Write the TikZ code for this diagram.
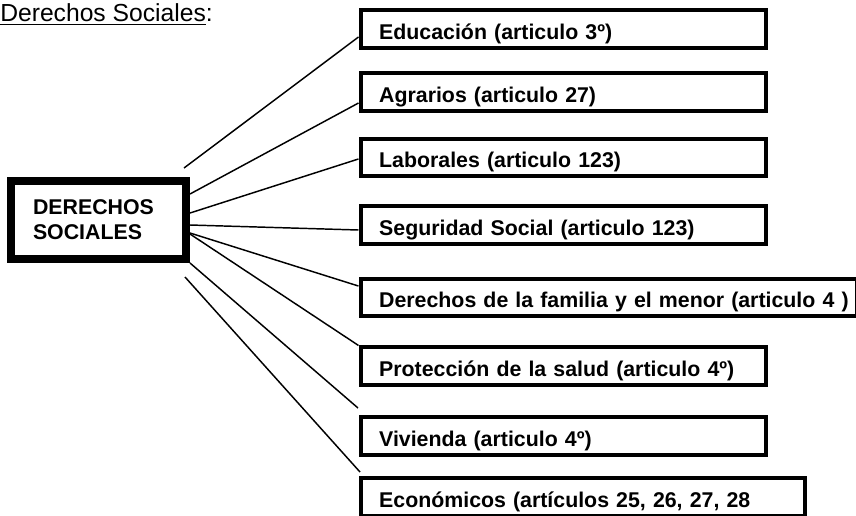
\documentclass[tikz,border=0pt]{standalone}
\usepackage{fontspec}
\setmainfont{Liberation Sans}
\begin{document}
\begin{tikzpicture}[x = 0.75pt, y = -0.75pt,
        caja/.style = {draw, line width = 3pt, anchor = west, align = left,
            inner xsep = 14pt, inner ysep = 3pt, text height = 18.4pt, text depth = 3.4pt,
            font = \bfseries\fontsize{16}{19}\selectfont},
        enlace/.style = {line width = 1.1pt}]
    \useasboundingbox (0,0) rectangle (856,515);
    \node[anchor = base west, inner sep = 0pt, font = \fontsize{18.5}{21}\selectfont] (titulo) at (0,21.7) {\underline{Derechos Sociales}:};
    \node[draw, line width = 6pt, minimum width = 131.25pt, minimum height = 58.5pt,
        inner xsep = 16.5pt, text width = 98.25pt, align = left,
        font = \bfseries\fontsize{16}{18.75}\selectfont] (derechos) at (98.5,220) {DERECHOS\\SOCIALES};
    \node[caja, text width = 276pt] (edu) at (358.5,29) {Educación (articulo 3º)};
    \node[caja, text width = 276pt] (agr) at (358.5,92) {Agrarios (articulo 27)};
    \node[caja, text width = 276pt] (lab) at (358.5,157.5) {Laborales (articulo 123)};
    \node[caja, text width = 276pt] (seg) at (358.5,225) {Seguridad Social (articulo 123)};
    \node[caja, text width = 344pt] (fam) at (358.5,297.5) {\mbox{Derechos de la familia y el menor (articulo 4 )}};
    \node[caja, text width = 276pt] (sal) at (358.5,366) {Protección de la salud (articulo 4º)};
    \node[caja, text width = 276pt] (viv) at (358.5,436) {Vivienda (articulo 4º)};
    \node[caja, text width = 305pt] (eco) at (358.5,497) {Económicos (artículos 25, 26, 27, 28};
    \coordinate (arriba) at (184,168);
    \coordinate (abajo) at (185,277);
    \coordinate (fin viv) at (358,408);
    \coordinate (fin eco) at (360,472);
    \begin{scope}[enlace]
        \draw (arriba) -- ([yshift = -6pt]edu.west);
        \draw ([yshift = 19.5pt]derechos.east) -- ([yshift = -8.25pt]agr.west);
        \draw ([yshift = 5.25pt]derechos.east) -- ([yshift = -1.1pt]lab.west);
        \draw ([yshift = -3.75pt]derechos.east) -- ([yshift = -3.75pt]seg.west);
        \draw ([yshift = -9.75pt]derechos.east) -- ([yshift = 8.6pt]fam.west);
        \draw ([yshift = -10.5pt]derechos.east) -- (sal.north west);
        \draw (derechos.south east) -- (fin viv);
        \draw (abajo) -- (fin eco);
    \end{scope}
\end{tikzpicture}
\end{document}
